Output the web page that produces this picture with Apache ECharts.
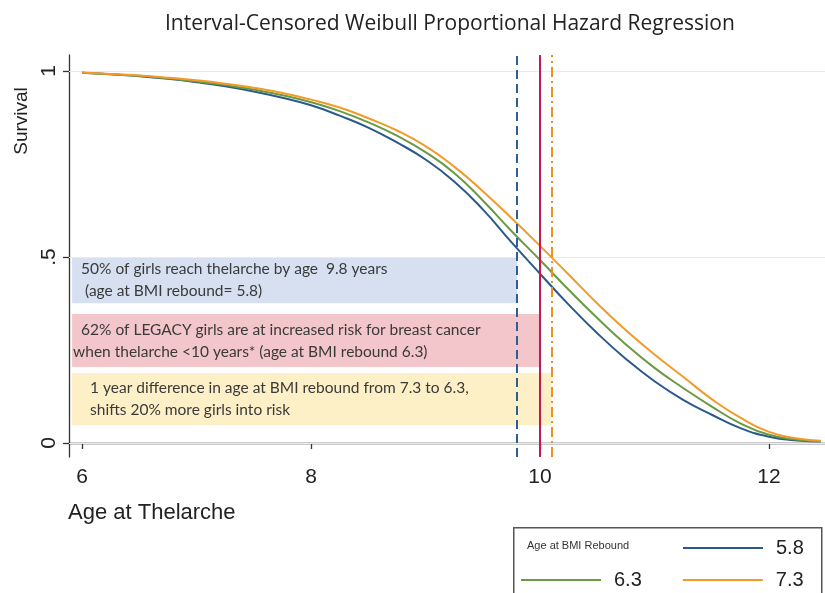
<!DOCTYPE html>
<html>
<head>
<meta charset="utf-8">
<script src="https://cdn.jsdelivr.net/npm/echarts@6/dist/echarts.min.js"></script>
<style>
  html, body { margin: 0; padding: 0; background: #fff; }
  #main { width: 825px; height: 593px; }
</style>
</head>
<body>
<div id="main"></div>
<script>
// age at thelarche (x) and survival
var ages    = [6, 6.25, 6.5, 6.75, 7, 7.25, 7.5, 7.75, 8, 8.25, 8.5, 8.75, 9, 9.25, 9.5, 9.75, 10, 10.25, 10.5, 10.75, 11, 11.25, 11.5, 11.75, 12, 12.25, 12.45];
var surv58  = [.995, .991, .986, .979, .970, .959, .945, .928, .908, .880, .848, .808, .762, .703, .628, .540, .455, .372, .295, .226, .166, .116, .076, .040, .017, .007, .004];
var surv63  = [.995, .991, .987, .980, .972, .962, .950, .935, .916, .892, .862, .826, .782, .726, .652, .570, .492, .412, .336, .265, .202, .148, .098, .053, .022, .009, .005];
var surv73  = [.996, .992, .988, .982, .975, .966, .955, .941, .923, .902, .873, .840, .798, .743, .677, .605, .530, .453, .375, .303, .238, .178, .118, .068, .030, .012, .006];
var seriesNames = ['5.8', '6.3', '7.3'];

var xTicks = [6, 8, 10, 12];
var yTicks = [0, 0.5, 1];
var yTickLabels = ['0', '.5', '1'];

// vertical reference lines (age)
var refAges = [9.8, 10, 10.1];

// annotation boxes: [x0, x1, yTop, yBottom]
var boxes = [
  [5.913, 9.8, 0.5, 0.376],
  [5.913, 10, 0.347, 0.204],
  [5.913, 10.1, 0.188, 0.048]
];
var boxTexts = [
  '50% of girls reach thelarche by age  9.8 years\n (age at BMI rebound= 5.8)',
  '  62% of LEGACY girls are at increased risk for breast cancer\nwhen thelarche <10 years* (age at BMI rebound 6.3)',
  '1 year difference in age at BMI rebound from 7.3 to 6.3,\nshifts 20% more girls into risk'
];

function pairs(xs, ys) {
  return xs.map(function (x, i) { return [x, ys[i]]; });
}

var chart = echarts.init(document.getElementById('main'));

var colors = ['#2a5a8a', '#6a9a44', '#f39a2a'];
var boxColors = ['#d6e0f1', '#f2c6cb', '#fdefc6'];
var boxPad = [9, 1, 18];

var areaData = boxes.map(function (b, i) {
  return [{
    xAxis: b[0], yAxis: b[2],
    itemStyle: { color: boxColors[i] },
    label: { show: true, position: 'insideLeft', distance: boxPad[i], formatter: boxTexts[i] }
  }, { xAxis: b[1], yAxis: b[3] }];
});

var gridLines = yTicks.map(function (v) {
  return { yAxis: v, lineStyle: { color: '#e4ecf1', width: 1.2, type: 'solid' } };
});
var refStyles = [
  { color: '#2f5f91', width: 2, type: [9, 5] },
  { color: '#c8174d', width: 2, type: 'solid' },
  { color: '#f2901e', width: 2, type: [10, 4, 2, 4] }
];
var refLines = refAges.map(function (a, i) {
  return { xAxis: a, lineStyle: refStyles[i] };
});

var legendText = { fontFamily: 'Liberation Sans', fontSize: 20, color: '#222', padding: [0, 0, 0, 8] };

chart.setOption({
  animation: false,
  backgroundColor: '#fff',
  title: {
    text: 'Interval-Censored Weibull Proportional Hazard Regression',
    left: 160, top: 9,
    textStyle: { fontFamily: 'Open Sans', fontWeight: 'normal', fontSize: 21, color: '#222' }
  },
  grid: { left: 69, right: 0, top: 55, bottom: 136 },
  xAxis: {
    type: 'value', min: 5.886, max: 12.489,
    axisLine: { lineStyle: { color: '#333', width: 1.3 } },
    axisTick: { customValues: xTicks, length: 6, lineStyle: { color: '#333', width: 1.3 } },
    axisLabel: { customValues: xTicks, fontFamily: 'Liberation Sans', fontSize: 21, color: '#222', margin: 10 },
    splitLine: { show: false }
  },
  yAxis: {
    type: 'value', min: -0.0376, max: 1.043,
    axisLine: { show: true, lineStyle: { color: '#333', width: 1.3 } },
    axisTick: { show: true, customValues: yTicks, length: 6, lineStyle: { color: '#333', width: 1.3 } },
    axisLabel: {
      customValues: yTicks, rotate: 90, fontFamily: 'Liberation Sans', fontSize: 21, color: '#222', margin: 9,
      formatter: function (v) { return yTickLabels[yTicks.indexOf(v)]; }
    },
    splitLine: { show: false }
  },
  legend: [{
    data: [{ name: seriesNames[0], icon: 'rect' }], left: 678, top: 533, itemWidth: 80, itemHeight: 2, itemGap: 41,
    textStyle: legendText
  }, {
    data: [{ name: seriesNames[1], icon: 'rect' }, { name: seriesNames[2], icon: 'rect' }],
    left: 516, top: 565, itemWidth: 80, itemHeight: 2, itemGap: 41,
    textStyle: legendText
  }],
  graphic: [
    { type: 'rect', left: 513, top: 527, shape: { width: 308, height: 80 }, style: { fill: '#fff', stroke: '#555', lineWidth: 1.5 }, z: 0 },
    { type: 'text', x: 527, y: 546, style: { text: 'Age at BMI Rebound', font: '11px "Liberation Sans"', fill: '#333', textVerticalAlign: 'middle' } },
    { type: 'text', x: 22, y: 121, rotation: Math.PI / 2, style: { text: 'Survival', font: '19px "Liberation Sans"', fill: '#222', textAlign: 'center', textVerticalAlign: 'middle' } },
    { type: 'text', x: 68, y: 513, style: { text: 'Age at Thelarche', font: '22px "Liberation Sans"', fill: '#222', textVerticalAlign: 'middle' } }
  ],
  series: [{
    name: seriesNames[0], type: 'line', data: pairs(ages, surv58), smooth: 0.5, symbol: 'none',
    lineStyle: { color: colors[0], width: 2 }, itemStyle: { color: colors[0] }, z: 3,
    markArea: {
      silent: true, z: 1,
      label: { fontFamily: 'Lato', fontSize: 15.5, color: '#3a3a3a', lineHeight: 22 },
      data: areaData
    },
    markLine: { silent: true, symbol: 'none', label: { show: false }, z: 1, data: gridLines }
  }, {
    name: seriesNames[1], type: 'line', data: pairs(ages, surv63), smooth: 0.5, symbol: 'none',
    lineStyle: { color: colors[1], width: 2 }, itemStyle: { color: colors[1] }, z: 3
  }, {
    name: seriesNames[2], type: 'line', data: pairs(ages, surv73), smooth: 0.5, symbol: 'none',
    lineStyle: { color: colors[2], width: 2 }, itemStyle: { color: colors[2] }, z: 3,
    markLine: { silent: true, symbol: 'none', label: { show: false }, z: 4, data: refLines }
  }]
});
</script>
</body>
</html>
